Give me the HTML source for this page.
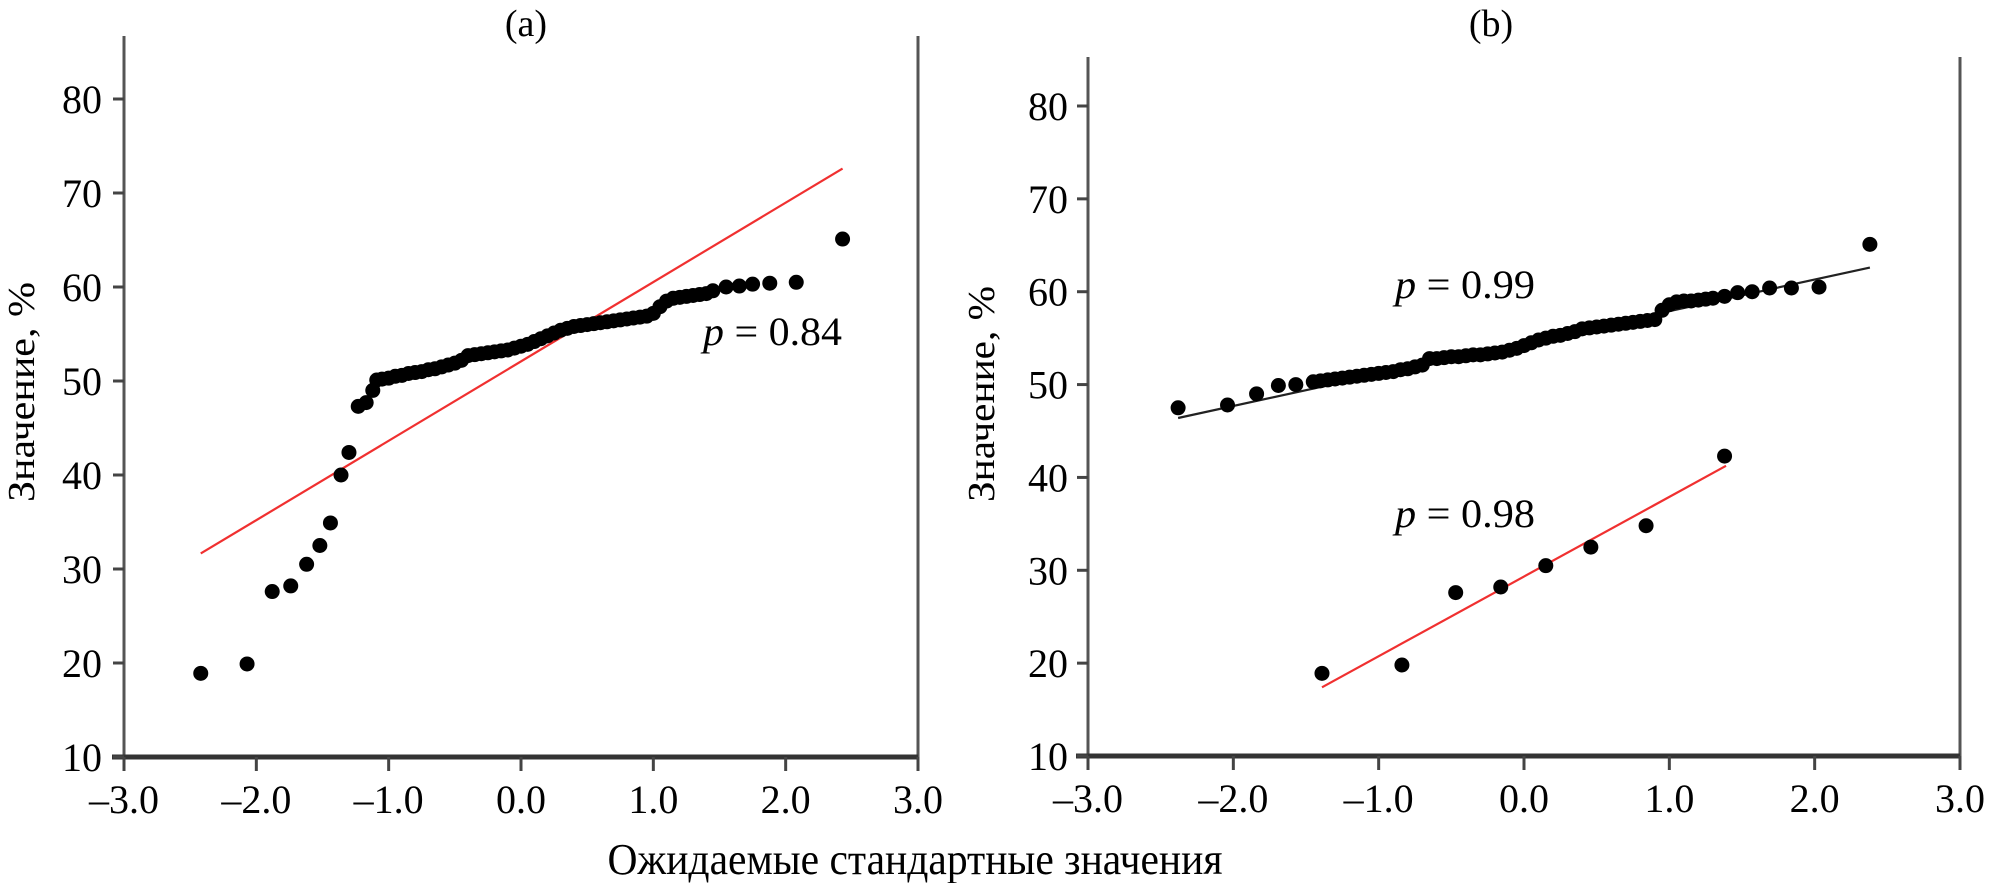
<!DOCTYPE html>
<html><head><meta charset="utf-8"><style>
html,body{margin:0;padding:0;background:#fff;}
svg{display:block;font-family:"Liberation Serif","DejaVu Serif",serif;}
</style></head><body>
<svg id="chart" width="1989" height="883" viewBox="0 0 1989 883" xmlns="http://www.w3.org/2000/svg">
<text x="526" y="36" font-size="38" text-anchor="middle">(a)</text>
<text x="1491" y="36" font-size="38" text-anchor="middle">(b)</text>
<text transform="translate(34,392) rotate(-90)" font-size="38" text-anchor="middle" textLength="220" lengthAdjust="spacingAndGlyphs">Значение, %</text>
<text transform="translate(994,394) rotate(-90)" font-size="38" text-anchor="middle" textLength="216" lengthAdjust="spacingAndGlyphs">Значение, %</text>
<text x="915" y="874" font-size="44" text-anchor="middle" textLength="615" lengthAdjust="spacingAndGlyphs">Ожидаемые стандартные значения</text>
<text x="703" y="345" font-size="40" textLength="139" lengthAdjust="spacingAndGlyphs"><tspan font-style="italic">p</tspan> = 0.84</text>
<text x="1395" y="298" font-size="40" textLength="140" lengthAdjust="spacingAndGlyphs"><tspan font-style="italic">p</tspan> = 0.99</text>
<text x="1395" y="527" font-size="40" textLength="140" lengthAdjust="spacingAndGlyphs"><tspan font-style="italic">p</tspan> = 0.98</text>
</svg>
<script>
const xTicks = [-3, -2, -1, 0, 1, 2, 3];
const xTickLabels = ["\u20133.0", "\u20132.0", "\u20131.0", "0.0", "1.0", "2.0", "3.0"];
const yTicks = [10, 20, 30, 40, 50, 60, 70, 80];
const yTickLabels = ["10", "20", "30", "40", "50", "60", "70", "80"];

const aX = [-2.42,-2.07,-1.88,-1.74,-1.62,-1.52,-1.44,-1.36,-1.30,-1.23,-1.17,-1.12,-1.09,
-1.05,-1.0,-0.95,-0.9,-0.85,-0.8,-0.75,-0.7,-0.65,-0.6,-0.55,-0.5,-0.45,-0.4,-0.35,-0.3,-0.25,-0.2,-0.15,-0.1,-0.05,0.0,0.05,0.1,0.15,0.2,0.25,0.3,0.35,0.4,0.45,0.5,0.55,0.6,0.65,0.7,0.75,0.8,0.85,0.9,0.95,1.0,1.05,1.1,1.15,1.2,1.25,1.3,1.35,1.4,1.45,
1.55,1.65,1.75,1.88,2.08,2.43];
const aY = [18.9,19.9,27.6,28.2,30.5,32.5,34.9,40.0,42.4,47.3,47.7,49.0,50.1,
50.2,50.3,50.5,50.6,50.8,50.9,51.0,51.2,51.3,51.5,51.7,51.9,52.2,52.7,52.8,52.9,53.0,53.1,53.2,53.3,53.5,53.7,53.9,54.2,54.5,54.8,55.1,55.4,55.6,55.8,55.9,56.0,56.1,56.2,56.3,56.4,56.5,56.6,56.7,56.8,56.9,57.2,57.9,58.5,58.8,58.9,59.0,59.1,59.2,59.3,59.6,
60.0,60.1,60.3,60.4,60.5,65.1];
const aFitX = [-2.42, 2.43];
const aFitY = [31.65, 72.6];

const bUpX = [-2.38,-2.04,-1.84,-1.69,-1.57,
-1.45,-1.4,-1.35,-1.3,-1.25,-1.2,-1.15,-1.1,-1.05,-1.0,-0.95,-0.9,-0.85,-0.8,-0.75,-0.7,-0.65,-0.6,-0.55,-0.5,-0.45,-0.4,-0.35,-0.3,-0.25,-0.2,-0.15,-0.1,-0.05,0.0,0.05,0.1,0.15,0.2,0.25,0.3,0.35,0.4,0.45,0.5,0.55,0.6,0.65,0.7,0.75,0.8,0.85,0.9,0.95,1.0,1.05,1.1,1.15,1.2,1.25,1.3,1.38,
1.47,1.57,1.69,1.84,2.03,2.38];
const bUpY = [47.5,47.8,49.0,49.9,50.0,
50.3,50.4,50.5,50.6,50.7,50.8,50.9,51.0,51.1,51.2,51.3,51.4,51.6,51.7,51.9,52.1,52.8,52.8,52.9,53.0,53.0,53.1,53.2,53.2,53.3,53.4,53.5,53.7,53.9,54.2,54.5,54.8,55.0,55.2,55.3,55.5,55.7,56.0,56.1,56.2,56.3,56.4,56.5,56.6,56.7,56.8,56.9,57.0,58.0,58.6,58.9,59.0,59.0,59.1,59.2,59.3,59.5,
59.9,60.0,60.4,60.4,60.5,65.1];
const bUpFitX = [-2.38, 2.38];
const bUpFitY = [46.4, 62.6];

const bLowX = [-1.39,-0.84,-0.47,-0.16,0.15,0.46,0.84,1.38];
const bLowY = [18.9,19.8,27.6,28.2,30.5,32.5,34.8,42.3];
const bLowFitX = [-1.39, 1.39];
const bLowFitY = [17.4, 41.25];

const NS = "http://www.w3.org/2000/svg";
const svg = document.getElementById("chart");
function mk(tag, attrs){const e=document.createElementNS(NS,tag);for(const k in attrs)e.setAttribute(k,attrs[k]);svg.appendChild(e);return e;}

const panels = {
  a:{x0:124,x1:918,top:36,ybot:757,ytop80:99,leftTop:36,rightTop:36,labelRight:102},
  b:{x0:1088,x1:1960,top:57,ybot:756,ytop80:106,leftTop:57,rightTop:57,labelRight:1068}
};
function sx(p,v){return p.x0+(v+3)*(p.x1-p.x0)/6;}
function sy(p,v){return p.ybot-(v-10)*(p.ybot-p.ytop80)/70;}

function drawAxes(key){
  const p=panels[key];
  let e;
  e=mk("line",{x1:p.x0,y1:p.leftTop,x2:p.x0,y2:p.ybot+14,stroke:"#555","stroke-width":3});
  
  
  e=mk("line",{x1:p.x1,y1:p.rightTop,x2:p.x1,y2:p.ybot+14,stroke:"#555","stroke-width":3});
  
  
  e=mk("line",{x1:p.x0-12,y1:p.ybot,x2:p.x1,y2:p.ybot,stroke:"#333","stroke-width":5});
  
  
  xTicks.forEach((t,i)=>{
    const x=sx(p,t);
    const tk=mk("line",{x1:x,y1:p.ybot,x2:x,y2:p.ybot+14,stroke:"#444","stroke-width":3});
    
    
    const lb=mk("text",{x:x,y:p.ybot+56,"font-size":40,"text-anchor":"middle"});
    lb.textContent=xTickLabels[i];
    
    
  });
  yTicks.forEach((t,i)=>{
    const y=sy(p,t);
    const tk=mk("line",{x1:p.x0-11,y1:y,x2:p.x0,y2:y,stroke:"#444","stroke-width":3});
    
    
    const lb=mk("text",{x:p.labelRight,y:y+14,"font-size":40,"text-anchor":"end"});
    lb.textContent=yTickLabels[i];
    
    
  });
}
function drawFit(key,xs,ys,color,name){
  const p=panels[key];
  const l=mk("line",{x1:sx(p,xs[0]),y1:sy(p,ys[0]),x2:sx(p,xs[1]),y2:sy(p,ys[1]),stroke:color,"stroke-width":2.2});
  
  
}
function drawPoints(key,xs,ys,name){
  const p=panels[key];
  xs.forEach((v,i)=>{
    const c=mk("circle",{cx:sx(p,v),cy:sy(p,ys[i]),r:7.5,fill:"#000"});
    
    
  });
}
drawAxes("a");
drawAxes("b");
drawFit("a",aFitX,aFitY,"#f03030","panel-a-fit-line");
drawPoints("a",aX,aY,"panel-a-point");
drawFit("b",bUpFitX,bUpFitY,"#222","panel-b-upper-fit-line");
drawPoints("b",bUpX,bUpY,"panel-b-upper-point");
drawFit("b",bLowFitX,bLowFitY,"#f03030","panel-b-lower-fit-line");
drawPoints("b",bLowX,bLowY,"panel-b-lower-point");
</script>
</body></html>
